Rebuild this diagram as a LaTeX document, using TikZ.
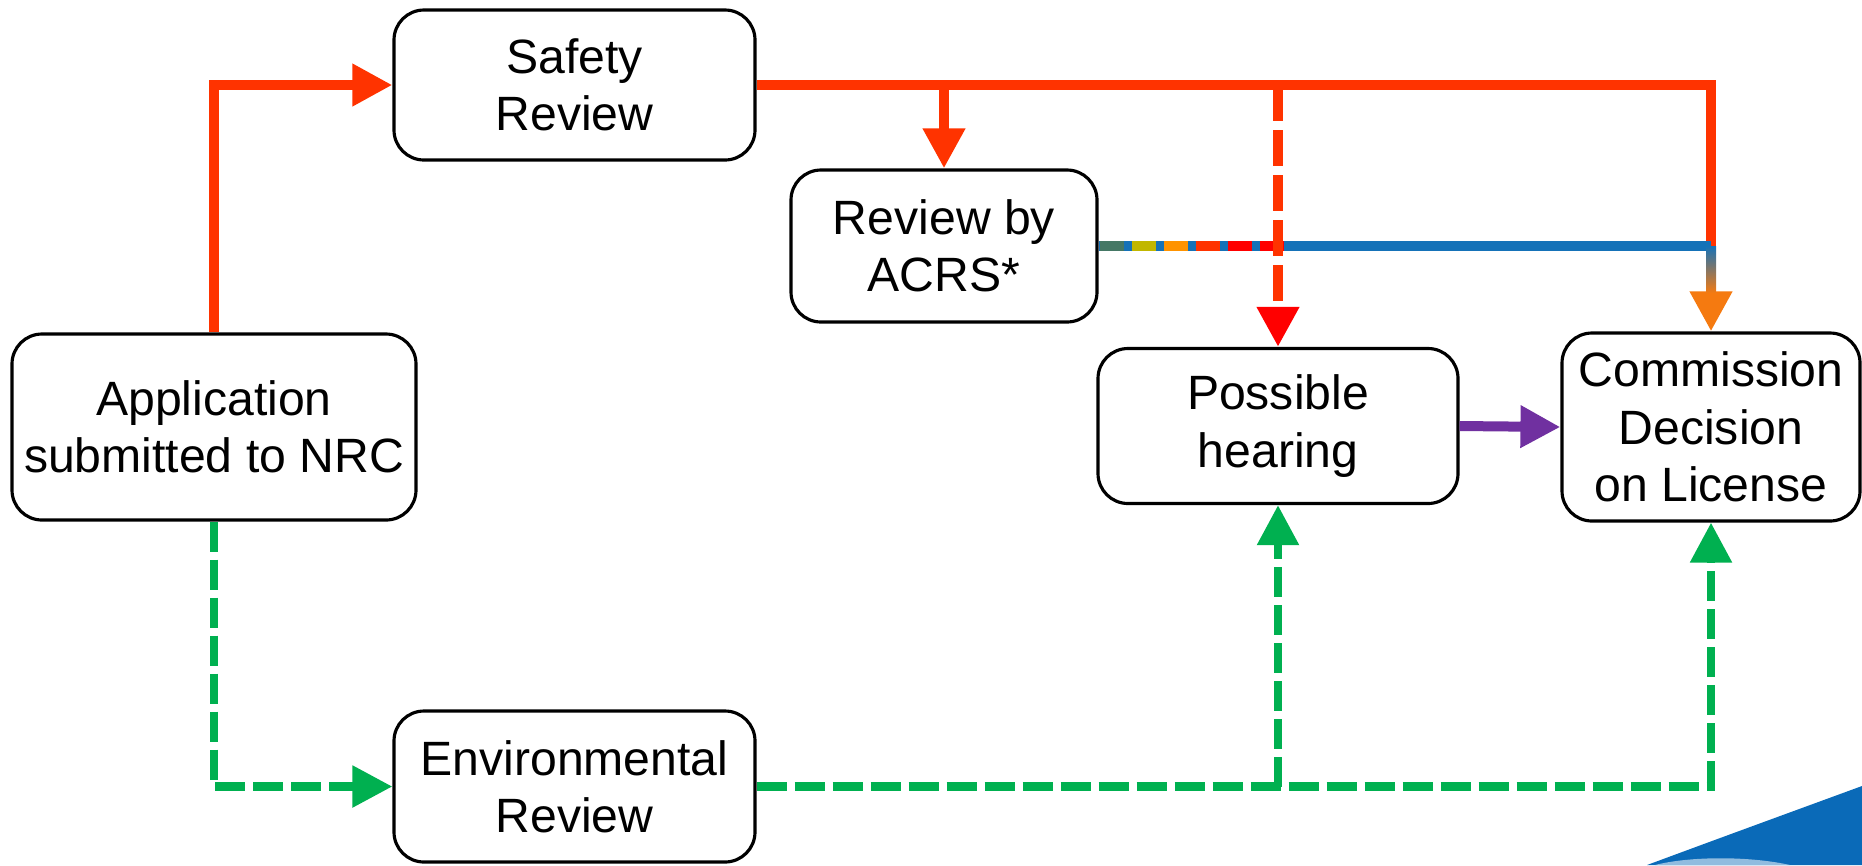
\documentclass[tikz,border=0pt]{standalone}
\usepackage{fontspec}
\setmainfont{Liberation Sans}
\usetikzlibrary{arrows.meta}
\definecolor{safetyred}{RGB}{255,51,0}
\definecolor{hearred}{RGB}{255,0,0}
\definecolor{acrsblue}{RGB}{21,114,184}
\definecolor{envgreen}{RGB}{0,176,80}
\definecolor{decpurple}{RGB}{112,48,160}
\definecolor{stemorange}{RGB}{245,122,16}
\definecolor{swoosh}{RGB}{10,106,184}
\def\lw{0.1cm}
\def\tiplen{0.4cm}

\begin{document}
\begin{tikzpicture}[
    stage/.style={draw,line width=0.9pt,rounded corners=0.3cm,align=center,inner sep=0pt,font=\fontsize{13.7}{16.3}\selectfont},
    tip/.style={-{Triangle[length=\tiplen,width=\tiplen]}},
    safetyline/.style={safetyred,line width=\lw},
    hearline/.style={safetyred,line width=\lw,dash pattern=on 0.36cm off 0.09cm,-{Triangle[length=\tiplen,width=\tiplen,color=hearred]}},
    acrsline/.style={acrsblue,line width=\lw},
    envline/.style={envgreen,line width=0.085cm,dash pattern=on 0.3cm off 0.08cm,tip}
  ]
  \useasboundingbox (0,0) rectangle (18.62,-8.65);

  \fill[swoosh] (16.47,-8.65) .. controls (17.2,-8.38) .. (18.62,-7.86) -- (18.62,-8.65) -- cycle;
  \fill[swoosh!45!white] (16.55,-8.65) .. controls (16.9,-8.56) and (17.5,-8.56) .. (17.9,-8.65) -- cycle;

  \node[stage,minimum width=4.04cm,minimum height=1.86cm] (app) at (2.14,-4.27) {Application\\submitted to NRC};
  \node[stage,minimum width=3.61cm,minimum height=1.50cm] (safety) at (5.745,-0.85) {Safety\\Review};
  \node[stage,minimum width=3.06cm,minimum height=1.52cm] (acrs) at (9.44,-2.46) {Review by\\ACRS*};
  \node[stage,minimum width=3.60cm,minimum height=1.55cm] (hear) at (12.78,-4.26) {Possible\\hearing};
  \node[stage,minimum width=2.98cm,minimum height=1.88cm] (comm) at (17.11,-4.27) {Commission\\Decision\\on License};
  \node[stage,minimum width=3.61cm,minimum height=1.51cm] (env) at (5.745,-7.865) {Environmental\\Review};
  \coordinate (join) at (comm.north |- acrs.east);

  \draw[safetyline,tip] (app.north) |- (safety.west);
  \draw[safetyline] (safety.east) -| (join);
  \draw[safetyline,tip] (safety.east -| acrs.north) -- (acrs.north);
  \draw[acrsline] (acrs.east) -- (join);
  \foreach \c [count=\i from 0] in {acrsblue!55!olive,olive!55!yellow,orange!85!yellow,orange!40!red,hearred,hearred}
    \draw[line width=\lw,\c] ([xshift={\i*0.32cm+0.01cm}]acrs.east) -- ++(0.24,0);
  \draw[line width=\lw,stemorange,tip] (join) -- (comm.north);
  \shade[top color=acrsblue,bottom color=stemorange] ([xshift=-0.05cm]join) rectangle ([xshift=0.05cm,yshift=-0.47cm]join);
  \draw[hearline] (safety.east -| hear.north) -- (hear.north);

  \draw[decpurple,line width=\lw,tip] (hear.east) -- (comm.west);

  \draw[envline] (app.south) |- (env.west);
  \draw[envline] (env.east) -| (comm.south);
  \draw[envline] (env.east -| hear.south) -- (hear.south);

\end{tikzpicture}
\end{document}
